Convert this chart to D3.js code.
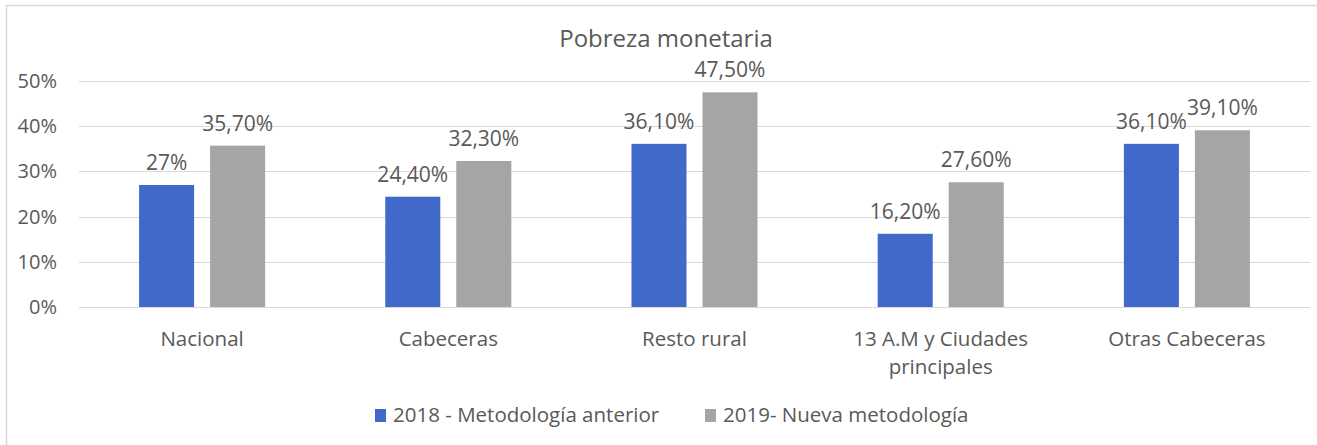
<!DOCTYPE html>
<html>
<head>
<meta charset="utf-8">
<script src="https://cdn.jsdelivr.net/npm/d3@7"></script>
<style>
  html, body { margin: 0; padding: 0; background: #ffffff; }
  svg { display: block; }
  text { font-family: "Open Sans", "Noto Sans", sans-serif; fill: #595959; }
</style>
</head>
<body>
<svg id="chart" width="1317" height="445"></svg>
<script>
const categories = ["Nacional", "Cabeceras", "Resto rural", "13 A.M y Ciudades principales", "Otras Cabeceras"];
const categoryLines = [["Nacional"], ["Cabeceras"], ["Resto rural"], ["13 A.M y Ciudades", "principales"], ["Otras Cabeceras"]];
const seriesNames = ["2018 - Metodología anterior", "2019- Nueva metodología"];
const values2018 = [27.0, 24.4, 36.1, 16.2, 36.1];
const values2019 = [35.7, 32.3, 47.5, 27.6, 39.1];
const labels2018 = ["27%", "24,40%", "36,10%", "16,20%", "36,10%"];
const labels2019 = ["35,70%", "32,30%", "47,50%", "27,60%", "39,10%"];
const yTicks = [0, 10, 20, 30, 40, 50];
const yTickLabels = ["0%", "10%", "20%", "30%", "40%", "50%"];
const colors = ["#4169C9", "#A5A5A5"];
const title = "Pobreza monetaria";

const svg = d3.select("#chart");
const W = 1317, H = 445;
const plot = { left: 79, right: 1310, top: 81, bottom: 307 };

// chart frame (top and left visible)
svg.append("rect").attr("x", 6.5).attr("y", 5.5).attr("width", W).attr("height", H)
  .attr("fill", "none").attr("stroke", "#D9D9D9").attr("stroke-width", 1.5);

const x0 = d3.scaleBand().domain(categories).range([plot.left, plot.right]).paddingInner(0).paddingOuter(0);
const x1 = d3.scaleBand().domain(seriesNames).range([0, x0.bandwidth()]).paddingInner(0.225).paddingOuter(0.846);
const y = d3.scaleLinear().domain([0, 50]).range([plot.bottom, plot.top]);

// gridlines
svg.append("g").selectAll("line").data(yTicks).join("line")
  .attr("x1", plot.left).attr("x2", plot.right)
  .attr("y1", d => Math.round(y(d)) + 0.5).attr("y2", d => Math.round(y(d)) + 0.5)
  .attr("stroke", "#D9D9D9").attr("stroke-width", 1.2);

// y axis labels
const yAxis = d3.axisLeft(y).tickValues(yTicks).tickFormat((d, i) => yTickLabels[i]).tickSize(0).tickPadding(0);
const yg = svg.append("g").attr("transform", `translate(57,0)`).call(yAxis);
yg.select(".domain").remove();
yg.selectAll("text").style("font-size", "20px").attr("fill", "#595959")
  .style("font-family", '"Open Sans", sans-serif');

// title
svg.append("text").attr("x", 666).attr("y", 47).attr("text-anchor", "middle")
  .style("font-size", "24px").text(title);

// bars
const data = categories.map((c, i) => ({ c, vals: [values2018[i], values2019[i]], labs: [labels2018[i], labels2019[i]] }));
const groups = svg.append("g").selectAll("g").data(data).join("g")
  .attr("transform", d => `translate(${x0(d.c)},0)`);
groups.selectAll("rect").data(d => d.vals.map((v, j) => ({ s: seriesNames[j], v, j }))).join("rect")
  .attr("x", d => x1(d.s)).attr("width", x1.bandwidth())
  .attr("y", d => y(d.v)).attr("height", d => y(0) - y(d.v))
  .attr("fill", d => colors[d.j]);
groups.selectAll("text.lab").data(d => d.vals.map((v, j) => ({ s: seriesNames[j], v, j, lab: d.labs[j] }))).join("text")
  .attr("class", "lab")
  .attr("x", d => x1(d.s) + x1.bandwidth() / 2).attr("y", d => y(d.v) - 15)
  .attr("text-anchor", "middle").style("font-size", "21px").text(d => d.lab);

// category labels
const xg = svg.append("g");
categoryLines.forEach((lines, i) => {
  const cx = x0(categories[i]) + x0.bandwidth() / 2;
  const t = xg.append("text").attr("x", cx).attr("y", 346)
    .attr("text-anchor", "middle").style("font-size", "20.5px");
  lines.forEach((ln, k) => t.append("tspan").attr("x", cx)
    .attr("dy", k === 0 ? 0 : 28).text(ln));
});

// legend
const legendX = [375, 705];
seriesNames.forEach((s, i) => {
  svg.append("rect").attr("x", legendX[i]).attr("y", 409).attr("width", 11).attr("height", 13).attr("fill", colors[i]);
  svg.append("text").attr("x", legendX[i] + 18).attr("y", 422).style("font-size", "20.5px").text(s);
});
</script>
</body>
</html>
